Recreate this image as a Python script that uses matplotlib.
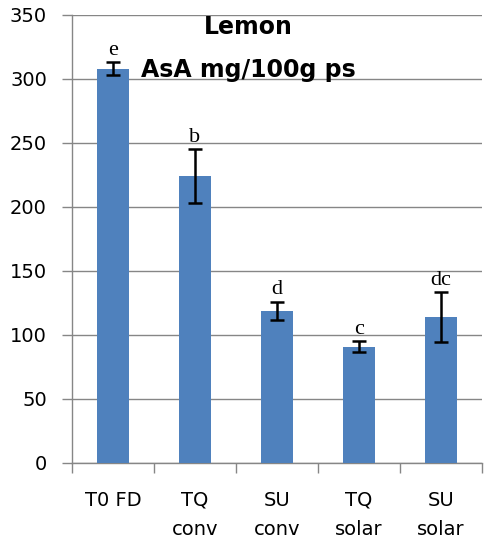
import numpy as np
import matplotlib
matplotlib.use('Agg')
import matplotlib.pyplot as plt

# values
categories = ['T0 FD', 'TQ\nconv', 'SU\nconv', 'TQ\nsolar', 'SU\nsolar']
asa = [308, 224, 119, 91, 114]
err = [5, 21, 7, 4, 19.5]
letters = ['e', 'b', 'd', 'c', 'dc']

plt.rcParams['font.family'] = ['DejaVu Sans']

fig = plt.figure(figsize=(4.85, 5.42), dpi=100)
ax = fig.add_axes([72/485, 79/542, 410/485, 448/542])

x = np.arange(len(categories))
ax.bar(x, asa, width=0.38, color='#4F81BD', zorder=3)
ax.errorbar(x, asa, yerr=err, fmt='none', ecolor='black', elinewidth=1.8,
            capsize=5, capthick=1.8, zorder=4)

for xi, v, e, t in zip(x, asa, err, letters):
    ax.text(xi, v + e + 2, t, ha='center', va='bottom', fontsize=16,
            family='Liberation Serif')

ax.set_xlim(-0.5, len(categories) - 0.5)
ax.set_ylim(0, 350)
ax.set_yticks(range(0, 351, 50))
ax.set_xticks(x)
ax.set_xticklabels(categories, fontsize=14, linespacing=1.65)
ax.set_xticks(np.arange(-0.5, len(categories)), minor=True)
ax.tick_params(axis='x', which='major', length=0, pad=20)
ax.tick_params(axis='x', which='minor', length=7, color='#868686', width=1)
ax.tick_params(axis='y', length=7, color='#868686', width=1, labelsize=14, pad=11)

ax.grid(axis='y', color='#868686', linewidth=1, zorder=0)
for s in ['top', 'right']:
    ax.spines[s].set_visible(False)
for s in ['left', 'bottom']:
    ax.spines[s].set_color('#868686')
    ax.spines[s].set_linewidth(1)

ax.text(0.43, 0.973, 'Lemon', transform=ax.transAxes, ha='center', va='center',
        fontsize=17, fontweight='bold')
ax.text(0.43, 0.877, 'AsA mg/100g ps', transform=ax.transAxes, ha='center', va='center',
        fontsize=17, fontweight='bold')

fig.savefig('out.png', dpi=100)
